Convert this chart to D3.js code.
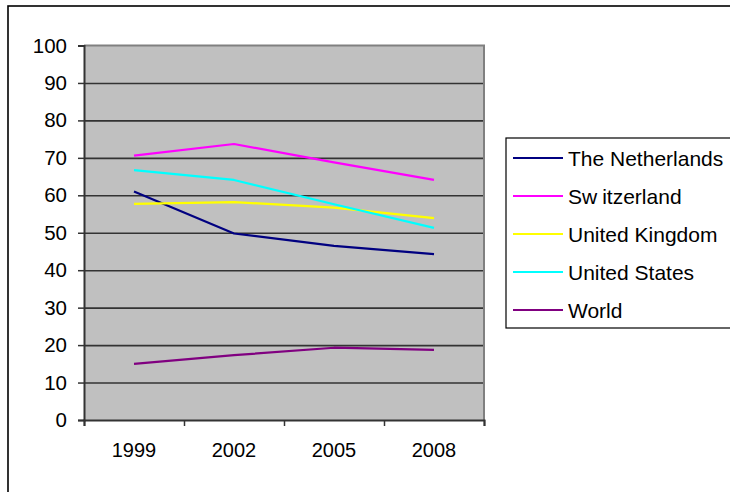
<!DOCTYPE html>
<html>
<head>
<meta charset="utf-8">
<script src="https://cdn.jsdelivr.net/npm/d3@7"></script>
<style>
  html, body { margin: 0; padding: 0; background: #fff; }
  svg { display: block; font-family: "Liberation Sans", Arial, sans-serif; }
</style>
</head>
<body>
<svg id="chart" width="730" height="492"></svg>
<script>
// Categories (x axis)
const years = ["1999", "2002", "2005", "2008"];

// Series values, one array per country
const netherlands = [61.0, 49.8, 46.5, 44.3];
const switzerland = [70.6, 73.7, 68.8, 64.1];
const unitedKingdom = [57.7, 58.2, 56.7, 53.9];
const unitedStates = [66.7, 64.1, 57.6, 51.3];
const world = [15.0, 17.3, 19.3, 18.7];

// Series names and colours
const seriesNames = ["The Netherlands", "Switzerland", "United Kingdom", "United States", "World"];
const seriesColors = ["#000080", "#FF00FF", "#FFFF00", "#00FFFF", "#800080"];
const seriesValues = [netherlands, switzerland, unitedKingdom, unitedStates, world];

// Y axis tick labels
const yTicks = [0, 10, 20, 30, 40, 50, 60, 70, 80, 90, 100];

const svg = d3.select("#chart");

// Plot area geometry
const plotLeft = 84, plotRight = 484, plotTop = 45.5, plotBottom = 420;

const x = d3.scaleBand().domain(years).range([plotLeft, plotRight]).padding(0);
const xEdges = d3.scaleLinear().domain([0, years.length]).range([plotLeft, plotRight]);
const y = d3.scaleLinear().domain([0, 100]).range([plotBottom, plotTop]);

// Outer chart frame (runs off the right and bottom edges)
svg.append("rect")
  .attr("x", 8).attr("y", 6)
  .attr("width", 740).attr("height", 500)
  .attr("fill", "#fff")
  .attr("stroke", "#000").attr("stroke-width", 1.6);

// Plot background
svg.append("rect")
  .attr("x", plotLeft).attr("y", plotTop)
  .attr("width", plotRight - plotLeft).attr("height", plotBottom - plotTop)
  .attr("fill", "#C0C0C0");

// Horizontal gridlines
const grid = svg.append("g")
  .attr("transform", `translate(${plotLeft},0)`)
  .call(d3.axisLeft(y).tickValues(yTicks.filter(d => d > 0 && d < 100))
    .tickSize(-(plotRight - plotLeft)).tickFormat(""));
grid.select(".domain").remove();
grid.selectAll(".tick line").attr("stroke", "#333").attr("stroke-width", 1.6);

// Plot area border (top and right in gray)
svg.append("path")
  .attr("d", `M${plotLeft},${plotTop}H${plotRight}V${plotBottom}`)
  .attr("fill", "none")
  .attr("stroke", "#808080").attr("stroke-width", 2);

// Y axis
const yAxis = svg.append("g")
  .attr("transform", `translate(${plotLeft},0)`)
  .call(d3.axisLeft(y).tickValues(yTicks).tickSize(6).tickPadding(11));
yAxis.select(".domain").attr("stroke", "#333").attr("stroke-width", 2);
yAxis.selectAll(".tick line").attr("stroke", "#333").attr("stroke-width", 1.5);
yAxis.selectAll(".tick text")
  .attr("font-size", 20.5).attr("fill", "#000")
  .attr("font-family", "'Liberation Sans', Arial, sans-serif");

// X axis: tick marks on category boundaries
const xTickAxis = svg.append("g")
  .attr("transform", `translate(0,${plotBottom})`)
  .call(d3.axisBottom(xEdges).tickValues(d3.range(years.length + 1)).tickSize(6).tickFormat(""));
xTickAxis.select(".domain").attr("stroke", "#333").attr("stroke-width", 2);
xTickAxis.selectAll(".tick line").attr("stroke", "#333").attr("stroke-width", 1.5);

// X axis: category labels
const xLabelAxis = svg.append("g")
  .attr("transform", `translate(0,${plotBottom})`)
  .call(d3.axisBottom(x).tickSize(0).tickPadding(23));
xLabelAxis.select(".domain").remove();
xLabelAxis.selectAll(".tick text")
  .attr("font-size", 20).attr("fill", "#000")
  .attr("font-family", "'Liberation Sans', Arial, sans-serif");

// Series lines
const line = d3.line()
  .x((d, i) => x(years[i]) + x.bandwidth() / 2)
  .y(d => y(d));

svg.append("g").selectAll("path")
  .data(seriesValues)
  .join("path")
  .attr("d", d => line(d))
  .attr("fill", "none")
  .attr("stroke", (d, i) => seriesColors[i])
  .attr("stroke-width", 2.2)
  .attr("stroke-linejoin", "round");

// Legend
const legend = svg.append("g");
legend.append("rect")
  .attr("x", 506).attr("y", 138)
  .attr("width", 240).attr("height", 190)
  .attr("fill", "#fff")
  .attr("stroke", "#000").attr("stroke-width", 1.2);

const legendRowY = d3.scaleLinear().domain([0, 1]).range([158, 196]);
const items = legend.selectAll("g.item")
  .data(seriesNames)
  .join("g")
  .attr("class", "item")
  .attr("transform", (d, i) => `translate(0,${legendRowY(i)})`);

items.append("line")
  .attr("x1", 513).attr("x2", 563)
  .attr("y1", 0).attr("y2", 0)
  .attr("stroke", (d, i) => seriesColors[i])
  .attr("stroke-width", 2.2);

items.append("text")
  .attr("x", 568).attr("y", 7.5)
  .attr("font-size", 21)
  .attr("fill", "#000")
  .each(function(d) {
    const t = d3.select(this);
    if (d === "Switzerland") {
      t.append("tspan").text("Sw");
      t.append("tspan").attr("dx", 5).text("itzerland");
    } else {
      t.text(d);
    }
  });
</script>
</body>
</html>
